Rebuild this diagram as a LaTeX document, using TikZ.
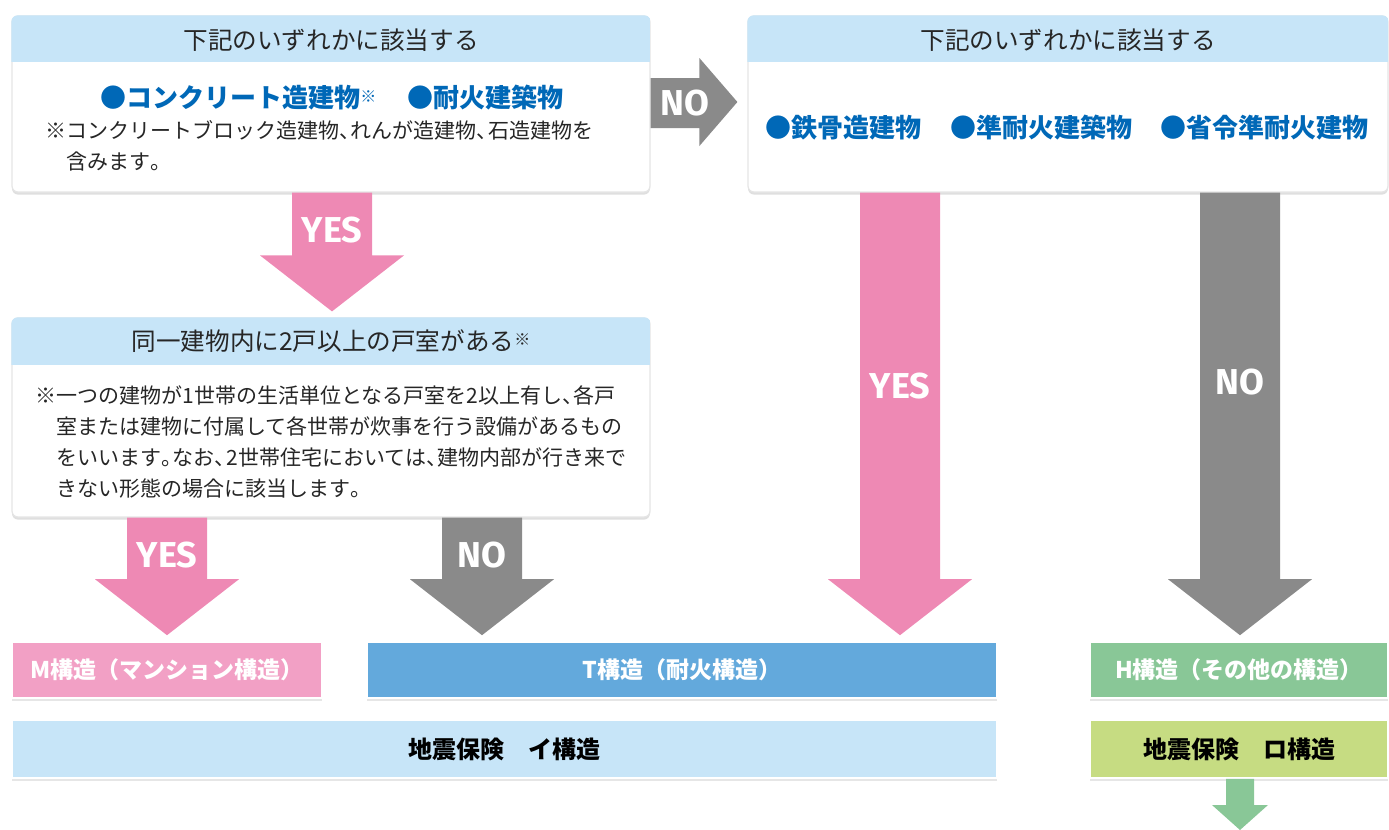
\documentclass[tikz,border=0pt]{standalone}
\usepackage{fontspec}
\setmainfont{Noto Sans CJK JP}
\newfontfamily\yesnofont{Fira Sans}
\usetikzlibrary{calc, shadows}
\definecolor{headblue}{HTML}{C7E5F8}
\definecolor{itemblue}{HTML}{0068B7}
\definecolor{yespink}{HTML}{EE89B4}
\definecolor{nogray}{HTML}{8A8A8A}
\definecolor{mpink}{HTML}{F2A0C5}
\definecolor{tblue}{HTML}{63A9DC}
\definecolor{hgreen}{HTML}{89C797}
\definecolor{rogreen}{HTML}{C6DC82}

% half-width punctuation
\newcommand{\tou}{\makebox[0.55em][l]{、}}
\newcommand{\kuten}{\makebox[0.55em][l]{。}}

% fat arrow pointing down: colour, centre x, from node, to node
\newcommand{\fatdown}[4]{%
  \fill[#1] (#2-40,0 |- #3.south) -- (#2+40,0 |- #3.south)
    -- ($(#2+40,0 |- #4.north)+(0,-62)$) -- ($(#2+72,0 |- #4.north)+(0,-62)$)
    -- ($(#2,0 |- #4.north)+(0,-6)$)
    -- ($(#2-72,0 |- #4.north)+(0,-62)$) -- ($(#2-40,0 |- #4.north)+(0,-62)$) -- cycle;}

\begin{document}
\begin{tikzpicture}[
    x=0.5pt, y=-0.5pt,
    card/.style={rectangle, rounded corners=3pt, fill=white, draw=black!10, line width=0.6pt, inner sep=0pt, drop shadow={opacity=0.25, shadow xshift=0pt, shadow yshift=-1.3pt}},
    head/.style={font=\fontsize{12.3}{14}\selectfont, text=black!85},
    item/.style={font=\bfseries\fontsize{13}{15}\selectfont, text=itemblue},
    note/.style={font=\fontsize{10.5}{15.5}\selectfont, align=left, anchor=west, text=black!85, inner sep=0pt},
    kind/.style={rectangle, draw=white, line width=0.8pt, fill=#1, text=white, font=\bfseries\fontsize{11.5}{13}\selectfont, minimum height=28pt, drop shadow={opacity=0.2, shadow xshift=0pt, shadow yshift=-1.5pt}},
    quake/.style={kind=#1, text=black, font=\bfseries\fontsize{12}{14}\selectfont, minimum height=29pt},
    answer/.style={text=white, font=\yesnofont\bfseries\fontsize{18}{18}\selectfont}
]
\useasboundingbox (0,0) rectangle (1389,830);

% Question cards
\node[card, minimum width=319pt, minimum height=88pt] (q1) at (331,104) {};
\node[card, minimum width=320pt, minimum height=88pt] (q2) at (1068,104) {};
\node[card, minimum width=319pt, minimum height=99.5pt] (q3) at (331,417.5) {};

\foreach \q/\h in {q1/47, q2/47, q3/48} {
  \begin{scope}
    \clip[rounded corners=3pt] (\q.south west) rectangle (\q.north east);
    \fill[headblue] (\q.north west) rectangle ($(\q.north east)+(0,\h)$);
  \end{scope}
}

% Card texts
\node[head] (q1t) at ($(q1.north)+(0,25)$) {下記のいずれかに該当する};
\node[item] (q1i) at (332,98) {●コンクリート造建物{\fontsize{8}{8}\selectfont\raisebox{0.6ex}{※}}\hspace{1.2em}●耐火建築物};
\node[note] (q1n) at (45,146) {※コンクリートブロック造建物\tou れんが造建物\tou 石造建物を\\\hspace*{1em}含みます\kuten};

\node[head] (q2t) at ($(q2.north)+(0,25)$) {下記のいずれかに該当する};
\node[item] (q2i) at (1067,128) {●鉄骨造建物\hspace{1.1em}●準耐火建築物\hspace{1.1em}●省令準耐火建物};

\node[head] (q3t) at ($(q3.north)+(0,24)$) {同一建物内に2戸以上の戸室がある{\fontsize{8}{8}\selectfont\raisebox{0.6ex}{※}}};
\node[note] (q3n) at (35,442) {※一つの建物が1世帯の生活単位となる戸室を2以上有し\tou 各戸\\\hspace*{1em}室または建物に付属して各世帯が炊事を行う設備があるもの\\\hspace*{1em}をいいます\kuten なお\tou 2世帯住宅においては\tou 建物内部が行き来で\\\hspace*{1em}きない形態の場合に該当します\kuten};

% Result boxes
\node[kind=mpink, minimum width=155pt] (mk) at (167,670) {M構造（マンション構造）};
\node[kind=tblue, minimum width=315pt] (tk) at (682,670) {T構造（耐火構造）};
\node[kind=hgreen, minimum width=149pt] (hk) at (1239,670) {H構造（その他の構造）};
\node[quake=headblue, minimum width=492.5pt] (ik) at (504.5,749) {地震保険\hspace{1em}イ構造};
\node[quake=rogreen, minimum width=149pt] (rk) at (1239,749) {地震保険\hspace{1em}ロ構造};

% Arrows
\fill[nogray] ($(q1.east)+(0,-26)$) -- ($(q1.east)+(0,24)$) -- ($(q2.west)+(-48,24)$)
  -- ($(q2.west)+(-48,42)$) -- ($(q2.west)+(-10,-2)$) -- ($(q2.west)+(-48,-46)$)
  -- ($(q2.west)+(-48,-26)$) -- cycle;
\node[answer] (a0) at (685,103) {NO};

\fatdown{yespink}{332}{q1}{q3}
\node[answer] (a1) at (332,230) {YES};
\fatdown{yespink}{167}{q3}{mk}
\node[answer] (a2) at (167,555) {YES};
\fatdown{nogray}{482}{q3}{tk}
\node[answer] (a3) at (482,555) {NO};
\fatdown{yespink}{900}{q2}{tk}
\node[answer] (a4) at (900,386) {YES};
\fatdown{nogray}{1240}{q2}{hk}
\node[answer] (a5) at (1240,382) {NO};

\coordinate (out) at (1240,830);
\fill[hgreen] (1226,0 |- rk.south) -- (1254,0 |- rk.south) -- ($(out)+(14,-25)$)
  -- ($(out)+(28,-25)$) -- (out) -- ($(out)+(-28,-25)$) -- ($(out)+(-14,-25)$) -- cycle;

\end{tikzpicture}
\end{document}
